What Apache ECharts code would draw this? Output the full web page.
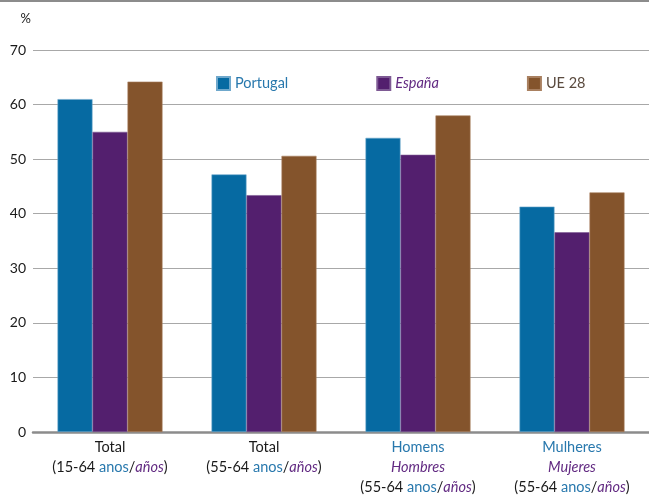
<!DOCTYPE html>
<html>
<head>
<meta charset="utf-8">
<script src="https://cdn.jsdelivr.net/npm/echarts@6/dist/echarts.min.js"></script>
<style>
html,body{margin:0;padding:0;background:#fff;}
#chart{width:649px;height:495px;}
</style>
</head>
<body>
<div id="chart"></div>
<script>
// ---- data ----
const categories = ['Total 15-64', 'Total 55-64', 'Homens/Hombres 55-64', 'Mulheres/Mujeres 55-64'];
const labelPt = ['Total', 'Total', 'Homens', 'Mulheres'];
const labelEs = ['', '', 'Hombres', 'Mujeres'];
const ageRanges = ['15-64', '55-64', '55-64', '55-64'];
const seriesNames = ['Portugal', 'España', 'UE 28'];
const portugal = [61.0, 47.2, 53.9, 41.3];
const espana = [55.0, 43.4, 50.8, 36.6];
const ue28 = [64.2, 50.6, 58.0, 43.9];
const yTicks = [0, 10, 20, 30, 40, 50, 60, 70];

const colors = ['#066aa2', '#531f6e', '#84542c'];
const txtBlue = '#2878ad';
const txtPurple = '#622a82';
const FONT = 'Lato, "Noto Sans", sans-serif';

const chart = echarts.init(document.getElementById('chart'), null, {renderer: 'canvas'});

function xLabel(value, idx) {
  const lines = [];
  if (labelEs[idx]) {
    lines.push('{p|' + labelPt[idx] + '}');
    lines.push('{s|' + labelEs[idx] + '}');
  } else {
    lines.push('{k|' + labelPt[idx] + '}');
  }
  lines.push('{k|(' + ageRanges[idx] + ' }{p|anos}{k|/}{s|años}{k|)}');
  return lines.join('\n');
}

const barBorders = ['#6fa8cc', '#7e5a94', '#a98060'];

const option = {
  animation: false,
  textStyle: {fontFamily: FONT},
  graphic: [{
    type: 'line',
    shape: {x1: 0, y1: 1, x2: 649, y2: 1},
    style: {stroke: '#8c8c8c', lineWidth: 2}
  }],
  legend: {
    left: 211,
    top: 71,
    itemWidth: 13,
    itemHeight: 13,
    itemGap: 88,
    icon: 'rect',
    textStyle: {fontSize: 14.5, fontFamily: FONT},
    data: [
      {name: seriesNames[0], textStyle: {color: txtBlue}},
      {name: seriesNames[1], textStyle: {color: txtPurple, fontStyle: 'italic'}},
      {name: seriesNames[2], textStyle: {color: '#5a4a3e'}}
    ]
  },
  grid: {left: 33, right: 0, top: 50, bottom: 63, containLabel: false},
  xAxis: {
    type: 'category',
    data: categories,
    axisLine: {lineStyle: {color: '#8c8c8c', width: 2.5}},
    axisTick: {show: false},
    axisLabel: {
      margin: 5,
      interval: 0,
      formatter: xLabel,
      rich: {
        k: {color: '#1a1a1a', fontSize: 14.5, lineHeight: 20, fontFamily: FONT},
        p: {color: txtBlue, fontSize: 14.5, lineHeight: 20, fontFamily: FONT},
        s: {color: txtPurple, fontSize: 14.5, lineHeight: 20, fontStyle: 'italic', fontFamily: FONT}
      }
    }
  },
  yAxis: {
    type: 'value',
    min: yTicks[0],
    max: yTicks[yTicks.length - 1],
    interval: 10,
    name: '%',
    nameLocation: 'end',
    nameGap: 25,
    nameTextStyle: {color: '#1a1a1a', fontSize: 13, align: 'right', padding: [0, 2, 0, 0]},
    axisLine: {show: false},
    axisTick: {show: false},
    axisLabel: {color: '#1a1a1a', fontSize: 14, margin: 7},
    splitLine: {lineStyle: {color: '#a8a8a8', width: 1}}
  },
  series: [portugal, espana, ue28].map((d, i) => ({
    name: seriesNames[i],
    type: 'bar',
    data: d,
    barWidth: 35,
    barGap: '0%',
    itemStyle: {color: colors[i], borderColor: barBorders[i], borderWidth: 0.6}
  }))
};
chart.setOption(option);
</script>
</body>
</html>
